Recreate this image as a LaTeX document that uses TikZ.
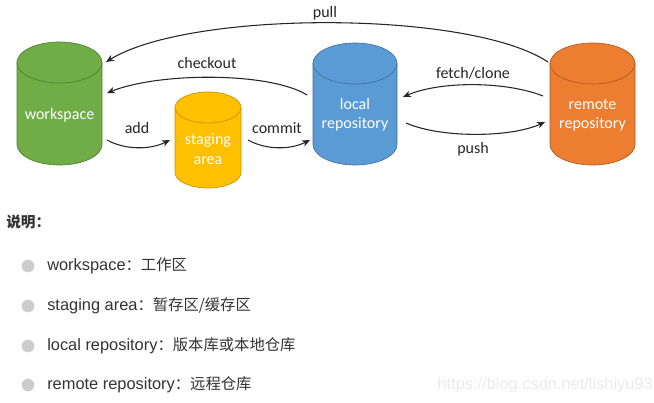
\documentclass[tikz,border=0pt]{standalone}
\usepackage{fontspec}
\setmainfont{Liberation Sans}
\newfontfamily\cali{Carlito}
\newfontfamily\cjk{Noto Sans CJK SC}
\usetikzlibrary{arrows.meta}
\definecolor{gfill}{HTML}{70AD47}\definecolor{gedge}{HTML}{507E32}
\definecolor{yfill}{HTML}{FFC000}\definecolor{yedge}{HTML}{C79600}
\definecolor{bfill}{HTML}{5B9BD5}\definecolor{bedge}{HTML}{41719C}
\definecolor{ofill}{HTML}{ED7D31}\definecolor{oedge}{HTML}{AE5A21}
\definecolor{ink}{HTML}{262626}
\definecolor{bodytext}{HTML}{333333}
\newcommand\drawcyl[6]{% cx, ytop, ybot, rx, ry, colour prefix
  \filldraw[fill=#6fill,draw=#6edge,line width=0.5pt]
    (#1-#4,#2+#5) -- (#1-#4,#3-#5)
    arc[start angle=180,end angle=360,x radius=#4*0.75pt,y radius=#5*0.75pt]
    -- (#1+#4,#2+#5) -- cycle;
  \filldraw[fill=#6fill,draw=#6edge,line width=0.5pt]
    (#1,#2+#5) ellipse[x radius=#4*0.75pt,y radius=#5*0.75pt];
}
\begin{document}
\begin{tikzpicture}[x=0.75pt,y=-0.75pt,
  cyltext/.style={text=white,align=center,font=\cali\fontsize{12}{14.6}\selectfont,inner sep=0pt},
  lbl/.style={text=ink,font=\cali\fontsize{12}{14}\selectfont,inner sep=0pt},
  conn/.style={draw=ink,line width=0.8pt,-{Stealth[length=6pt,width=5pt]}},
  bullet/.style={circle,fill=black!20,minimum size=9.5pt,inner sep=0pt},
  item/.style={anchor=west,text=bodytext,inner sep=0pt,font=\fontsize{12.3}{14}\selectfont},
  ]
\useasboundingbox[fill=white] (0,0) rectangle (654,403);
% cylinders
\drawcyl{59.5}{42}{165}{42.5}{20.5}{g}
\drawcyl{208}{92}{188}{33}{15.5}{y}
\drawcyl{355}{43}{165}{42}{20.5}{b}
\drawcyl{592.5}{43}{165}{42.5}{20.5}{o}
\node[cyltext] (ws) at (59.5,115) {workspace};
\node[cyltext] (sa) at (208,149) {staging\\area};
\node[cyltext] (lr) at (355,115) {local\\repository};
\node[cyltext] (rr) at (592.5,115) {remote\\repository};
% connector ends
\coordinate (pullA) at (548,62);  \coordinate (pullB) at (106,62);
\coordinate (coA) at (307,95);    \coordinate (coB) at (107,93);
\coordinate (addA) at (107,140);  \coordinate (addB) at (170,140);
\coordinate (cmA) at (248,140);   \coordinate (cmB) at (310,140);
\coordinate (feA) at (543,96);    \coordinate (feB) at (403,97);
\coordinate (puA) at (406,123);   \coordinate (puB) at (545,122);
\draw[conn] (pullA) .. controls (470,10) and (190,10) .. (pullB);
\draw[conn] (coA) .. controls (270,72) and (160,72) .. (coB);
\draw[conn] (addA) .. controls (125,150) and (150,150) .. (addB);
\draw[conn] (cmA) .. controls (266,150) and (290,150) .. (cmB);
\draw[conn] (feA) .. controls (505,81) and (440,81) .. (feB);
\draw[conn] (puA) .. controls (440,138) and (510,138) .. (puB);
\node[lbl] (lpull) at (325,13) {pull};
\node[lbl] (lco) at (207,63) {checkout};
\node[lbl] (ladd) at (137,128) {add};
\node[lbl] (lcm) at (277,128) {commit};
\node[lbl] (lfe) at (473,73) {fetch/clone};
\node[lbl] (lpu) at (473,149) {push};
% explanation
\node[anchor=west,inner sep=0pt,text=bodytext,font=\cjk\bfseries\fontsize{11}{13}\selectfont] (sm) at (6,222) {说明：};
\node[bullet] (b1) at (28,266) {};
\node[bullet] (b2) at (28,306) {};
\node[bullet] (b3) at (28,346) {};
\node[bullet] (b4) at (28,385) {};
\node[item] (t1) at (47,266) {workspace{\cjk\fontsize{11.5}{14}\selectfont：工作区}};
\node[item] (t2) at (47,306) {staging area{\cjk\fontsize{11.5}{14}\selectfont：暂存区/缓存区}};
\node[item] (t3) at (47,346) {local repository{\cjk\fontsize{11.5}{14}\selectfont：版本库或本地仓库}};
\node[item] (t4) at (47,385) {remote repository{\cjk\fontsize{11.5}{14}\selectfont：远程仓库}};
\node[anchor=east,inner sep=0pt,text=black!8,font=\fontsize{12.3}{14}\selectfont] (wm) at (653,385) {https://blog.csdn.net/lishiyu93};
\end{tikzpicture}
\end{document}
